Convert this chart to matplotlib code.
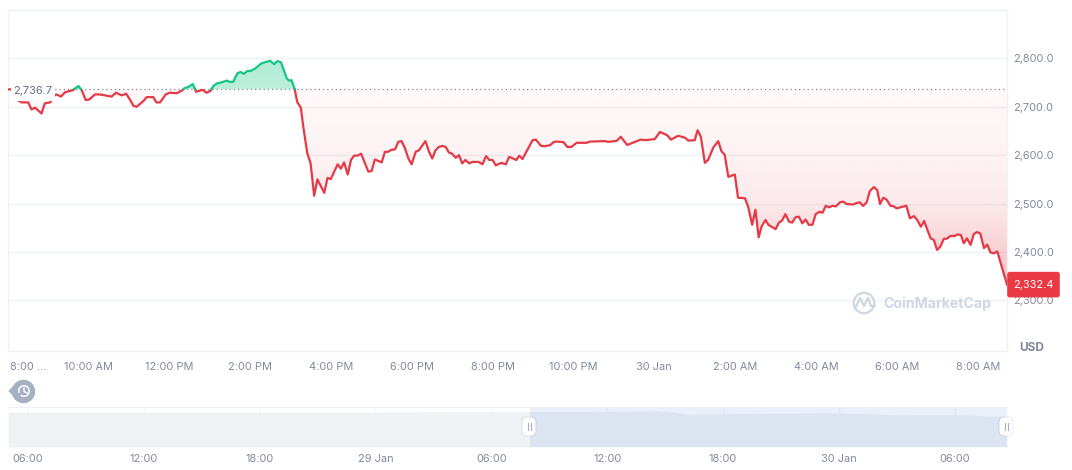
"""
Price chart, 29-30 Jan, with a range navigator underneath.
Time is kept in hours from 00:00 on 29 Jan.
"""

import numpy as np
import matplotlib
matplotlib.use("Agg")
import matplotlib.pyplot as plt
from matplotlib.colors import to_rgb
from matplotlib.patches import Circle, FancyBboxPatch, Polygon, Rectangle, Arc
from matplotlib.path import Path
from matplotlib.ticker import FuncFormatter

plt.rcParams["font.family"] = ["Inter", "DejaVu Sans"]

# ── Data ──
BASE_PRICE = 2736.7
LAST_PRICE = 2332.4

hours_day = [
    8.03, 8.10, 8.19, 8.36, 8.52, 8.60, 8.69, 8.85, 8.93, 9.06, 9.18, 9.22, 9.33, 9.43, 9.63, 9.76, 9.84,
    9.94, 10.03, 10.17, 10.29, 10.58, 10.69, 10.83, 10.94, 11.02, 11.12, 11.20, 11.37, 11.45, 11.61,
    11.69, 11.78, 11.92, 12.02, 12.19, 12.31, 12.40, 12.48, 12.59, 12.67, 12.83, 12.93, 13.03, 13.10,
    13.18, 13.28, 13.43, 13.52, 13.59, 13.69, 13.77, 13.85, 13.94, 14.02, 14.13, 14.27, 14.37, 14.50,
    14.60, 14.68, 14.77, 14.91, 14.97, 15.03, 15.11, 15.17, 15.26, 15.32, 15.42, 15.50,
]
price_day = [
    2736, 2736, 2717, 2709, 2709, 2694.5, 2698, 2686, 2707, 2709, 2724, 2725.5, 2721, 2730, 2734.5, 2743, 2734.5,
    2714, 2715, 2725.5, 2725.5, 2721, 2729, 2723.5, 2727, 2717, 2702, 2700, 2712, 2720, 2720,
    2709, 2709, 2725.5, 2729, 2728, 2733, 2739, 2741, 2747, 2731, 2735, 2729, 2733, 2743,
    2748, 2750, 2754, 2751, 2752, 2769, 2772, 2768, 2774, 2774, 2779, 2789, 2792, 2795,
    2788, 2794.5, 2792, 2759, 2754, 2755, 2736, 2710, 2698, 2659, 2603.5, 2584,
]

hours_evening = [
    15.59, 15.67, 15.84, 15.92, 16.00, 16.17, 16.25, 16.33, 16.42, 16.50, 16.58, 16.66, 16.75, 16.93,
    17.01, 17.09, 17.26, 17.34, 17.42, 17.50, 17.59, 17.67, 17.75, 17.83, 17.92, 18.00, 18.10, 18.18,
    18.34, 18.43, 18.51, 18.59, 18.67, 18.76, 18.84, 18.92, 19.00, 19.09, 19.17, 19.25, 19.33, 19.42,
    19.50, 19.66, 19.75, 19.84, 19.92, 20.00, 20.08, 20.22, 20.33, 20.41, 20.59, 20.66, 20.74, 20.99,
    21.07, 21.20, 21.29, 21.42, 21.52, 21.60, 21.75, 21.85, 21.95, 22.08, 22.32, 22.41, 22.78, 22.86,
    23.07, 23.17, 23.33, 23.48, 23.66, 23.77, 24.01,
]
price_evening = [
    2516, 2550, 2522, 2553, 2550.5, 2581, 2572, 2585, 2560, 2590, 2599, 2599, 2603, 2566,
    2567, 2591, 2585, 2607, 2607, 2611, 2612, 2627.5, 2629, 2615, 2593, 2581, 2607, 2610,
    2629, 2607, 2593, 2610, 2617, 2619, 2617, 2605.5, 2603, 2594.5, 2600, 2583, 2590, 2583,
    2586, 2586, 2581, 2598, 2590, 2590, 2579, 2584, 2581, 2596.5, 2590, 2599, 2592, 2631,
    2632, 2619, 2618.5, 2620.5, 2627.5, 2628, 2627, 2617, 2617, 2625.5, 2625.5, 2628, 2629, 2627.5,
    2629.5, 2638, 2621, 2626, 2632, 2631, 2633,
]

hours_night = [
    24.14, 24.32, 24.41, 24.59, 24.76, 24.84, 25.00, 25.07, 25.15, 25.25, 25.33, 25.46, 25.58, 25.66,
    25.74, 25.83, 25.99, 26.07, 26.24, 26.32, 26.42, 26.50, 26.58, 26.65, 26.75, 26.82, 27.00, 27.08,
    27.16, 27.24, 27.33, 27.41, 27.49, 27.57, 27.66, 27.74, 27.82, 27.91, 27.99, 28.08, 28.16, 28.24,
    28.32, 28.41, 28.49, 28.59, 28.67, 28.75, 28.92, 29.00, 29.08, 29.16, 29.25, 29.33, 29.43, 29.51,
    29.58, 29.66, 29.74, 29.84, 29.90, 29.99, 30.23, 30.32, 30.42, 30.50, 30.59, 30.67, 30.83, 30.91,
    30.99, 31.07, 31.16, 31.24, 31.32, 31.43, 31.49, 31.58, 31.65, 31.73, 31.82, 31.90, 31.98, 32.06,
    32.15, 32.23, 32.31, 32.39, 32.48, 32.72,
]
price_night = [
    2648, 2641, 2632, 2640, 2636, 2630, 2631, 2651.5, 2638, 2584, 2590, 2616, 2629, 2608,
    2601, 2555, 2560, 2512, 2511, 2493.5, 2456, 2487, 2430, 2452, 2466, 2456, 2447, 2460.5,
    2465, 2478, 2462.5, 2460.5, 2471.5, 2473, 2459, 2467, 2456, 2456, 2478, 2483, 2481, 2495.5,
    2492, 2495.5, 2494, 2502.5, 2504, 2499, 2498, 2501, 2502.5, 2495, 2502.5, 2526, 2534, 2528,
    2499, 2512, 2508.5, 2495, 2495, 2490, 2495.5, 2469.5, 2474, 2466, 2452, 2464, 2428, 2425,
    2404, 2411, 2427, 2427.5, 2433, 2433, 2436, 2435, 2418, 2428, 2414.5, 2437, 2441, 2438,
    2408, 2415, 2399, 2397, 2401, 2332.4,
]

y_ticks = [2300, 2400, 2500, 2600, 2700, 2800, 2900]

x_ticks = [10, 12, 14, 16, 18, 20, 22, 24, 26, 28, 30, 32]
x_labels = ["10:00 AM", "12:00 PM", "2:00 PM", "4:00 PM", "6:00 PM", "8:00 PM",
            "10:00 PM", "30 Jan", "2:00 AM", "4:00 AM", "6:00 AM", "8:00 AM"]

# navigator series, coarse: hours from 00:00 on 29 Jan and price
nav_hours = [-19.04, -14, -8, -3, 2, 6, 8, 11, 14.5, 15.4, 16.2, 20, 24, 25.5, 27, 30, 32.72]
nav_price = [2690, 2680, 2695, 2700, 2710, 2725, 2736, 2735, 2795, 2680, 2520, 2600, 2630, 2560,
             2460, 2490, 2332]

nav_ticks = [-18, -12, -6, 0, 6, 12, 18, 24, 30]
nav_labels = ["06:00", "12:00", "18:00", "29 Jan", "06:00", "12:00", "18:00", "30 Jan", "06:00"]

# gradient stops under the baseline: price, opacity
red_stop_price = [2332, 2400, 2500, 2600, 2736.7]
red_stop_alpha = [0.32, 0.24, 0.11, 0.065, 0.035]

# ── Style ──
RED = "#e63946"
GREEN = "#16c784"
GRID = "#eff2f5"
TICK = "#808a9d"
LOGO = "#cfd6e4"
TEXT_PX = 7.9


def with_crossings(x, y, level):
    """Add a point wherever the line crosses the level, so colours change exactly there."""
    out_x, out_y = [x[0]], [y[0]]
    for i in range(1, len(x)):
        if (y[i - 1] - level) * (y[i] - level) < 0:
            t = (level - y[i - 1]) / (y[i] - y[i - 1])
            out_x.append(x[i - 1] + t * (x[i] - x[i - 1]))
            out_y.append(level)
        out_x.append(x[i])
        out_y.append(y[i])
    return np.array(out_x), np.array(out_y)


def gradient_fill(ax, x, y, mask, colour, stop_price, stop_alpha):
    """Fill between line and baseline with a vertical opacity gradient."""
    poly = ax.fill_between(x, y, BASE_PRICE, where=mask, color="none", linewidth=0)
    clip = Path.make_compound_path(*poly.get_paths())
    ylo, yhi = min(stop_price), max(stop_price)
    levels = np.linspace(yhi, ylo, 256)
    rgba = np.zeros((256, 1, 4))
    rgba[..., :3] = to_rgb(colour)
    rgba[:, 0, 3] = np.interp(levels, stop_price, stop_alpha)
    im = ax.imshow(rgba, extent=(x[0], x[-1], ylo, yhi), aspect="auto", zorder=2,
                   interpolation="bilinear")
    im.set_clip_path(clip, transform=ax.transData)


# ── Figure ──
W, H = 1072, 470
fig = plt.figure(figsize=(W / 100, H / 100), dpi=100, facecolor="white")


def px_axes(left, top, right, bottom):
    return fig.add_axes([left / W, 1 - bottom / H, (right - left) / W, (bottom - top) / H])


# ── Main chart ──
ax = px_axes(8, 10, 1007, 351)
hours = np.array(hours_day + hours_evening + hours_night)
price = np.array(price_day + price_evening + price_night, dtype=float)
xs, ys = with_crossings(hours, price, BASE_PRICE)

gradient_fill(ax, xs, ys, ys <= BASE_PRICE, RED, red_stop_price, red_stop_alpha)
gradient_fill(ax, xs, ys, ys >= BASE_PRICE, GREEN, [BASE_PRICE, 2795], [0.29, 0.34])
ax.set_xlim(8.02, 32.72)
ax.set_ylim(2195.2, 2899.8)

ax.plot(xs, np.where(ys <= BASE_PRICE, ys, np.nan), color=RED, lw=1.6, zorder=4,
        solid_joinstyle="round")
ax.plot(xs, np.where(ys >= BASE_PRICE, ys, np.nan), color=GREEN, lw=1.6, zorder=4,
        solid_joinstyle="round")
ax.axhline(BASE_PRICE, color=TICK, lw=0.9, ls=(0, (1, 2.4)), zorder=3)

ax.set_yticks(y_ticks)
ax.yaxis.set_major_formatter(FuncFormatter(lambda v, _: f"{v:,.1f}" if v < 2900 else ""))
ax.yaxis.tick_right()
ax.set_xticks(x_ticks, x_labels)
ax.tick_params(axis="both", length=0, labelsize=TEXT_PX, labelcolor=TICK)
ax.tick_params(axis="x", pad=8)
ax.tick_params(axis="y", pad=4.2)
ax.grid(axis="y", color=GRID, lw=1, zorder=0)
ax.set_axisbelow(True)
for spine in ax.spines.values():
    spine.set_color(GRID)
    spine.set_linewidth(1)
ax.text(8.52, -11.5 / 341, "8:00 ...", transform=ax.get_xaxis_transform(), ha="center", va="top",
        color=TICK, fontsize=TEXT_PX)

# ── Navigator ──
nav = px_axes(8, 407, 1007, 447)
nav.set_xlim(-19.04, 32.72)
nav.set_ylim(0, 3083)
nav.fill_between(nav_hours, nav_price, 0, color="#eff2f5", linewidth=0, zorder=1)
nav.vlines(nav_ticks, 0, 3083, color="#f4f5f7", lw=1, zorder=0)
nav.axvspan(8.0, 32.72, color="#6f8fe0", alpha=0.14, linewidth=0, zorder=2)
nav.set_xticks(nav_ticks, nav_labels)
nav.set_yticks([])
nav.tick_params(axis="x", length=0, labelsize=TEXT_PX, labelcolor=TICK, pad=5)
for name, spine in nav.spines.items():
    spine.set_visible(name == "top")
    spine.set_color("#f0f1f3")

# ── Overlay in pixel coordinates for tags, logo and handles ──
ov = fig.add_axes([0, 0, 1, 1], zorder=10)
ov.set_xlim(0, W)
ov.set_ylim(H, 0)
ov.axis("off")
ov.patch.set_alpha(0)

# baseline tag
ov.add_patch(Rectangle((11, 78), 44, 23, color="white", lw=0))
ov.text(13, 91, f"{BASE_PRICE:,.1f}", color="#616e85", fontsize=TEXT_PX, va="center", ha="left")

# last price tag
last_y = H - ax.transData.transform((0, LAST_PRICE))[1]
ov.add_patch(FancyBboxPatch((1008, last_y - 12), 51, 24, boxstyle="round,pad=0.8,rounding_size=2.5",
                            fc="#ea3943", ec="none"))
ov.text(1033.5, last_y, f"{LAST_PRICE:,.1f}", color="white", fontsize=TEXT_PX, ha="center", va="center")

# axis unit
ov.text(1031.5, 348, "USD", color=TICK, fontsize=8.6, fontweight="bold", ha="center", va="center")

# watermark
ov.add_patch(Circle((864, 303), 10.2, fc="none", ec=LOGO, lw=1.6))
ov.plot([855, 860, 864, 868, 871, 875], [309, 298, 306, 298, 306, 306], color=LOGO, lw=1.6,
        solid_joinstyle="round", solid_capstyle="round")
ov.text(883, 304, "CoinMarketCap", color=LOGO, fontsize=10.2, fontweight="bold", ha="left", va="center")

# history button
ov.add_patch(Circle((23.5, 391.5), 11.7, fc="#a6b0c3", ec="none"))
ov.add_patch(Polygon([(8.3, 391), (17, 382), (17, 400)], fc="#a6b0c3", ec="none"))
ov.add_patch(Arc((24, 391), 10.5, 10.5, theta1=-200, theta2=130, color="white", lw=1.1))
ov.plot([24, 24, 27], [388, 391.5, 393], color="white", lw=1)

# navigator handles
for cx in (529, 1006):
    ov.add_patch(FancyBboxPatch((cx - 7.5, 416.5), 15, 20, boxstyle="round,pad=0,rounding_size=5.5",
                                fc="black", ec="none", alpha=0.06))
    ov.add_patch(FancyBboxPatch((cx - 6.5, 417.5), 13, 18, boxstyle="round,pad=0,rounding_size=5",
                                fc="white", ec="none"))
    ov.plot([cx - 1.5, cx - 1.5], [423, 430], color="#a6b0c3", lw=0.8)
    ov.plot([cx + 1.5, cx + 1.5], [423, 430], color="#a6b0c3", lw=0.8)

fig.savefig("out.png", dpi=100)
